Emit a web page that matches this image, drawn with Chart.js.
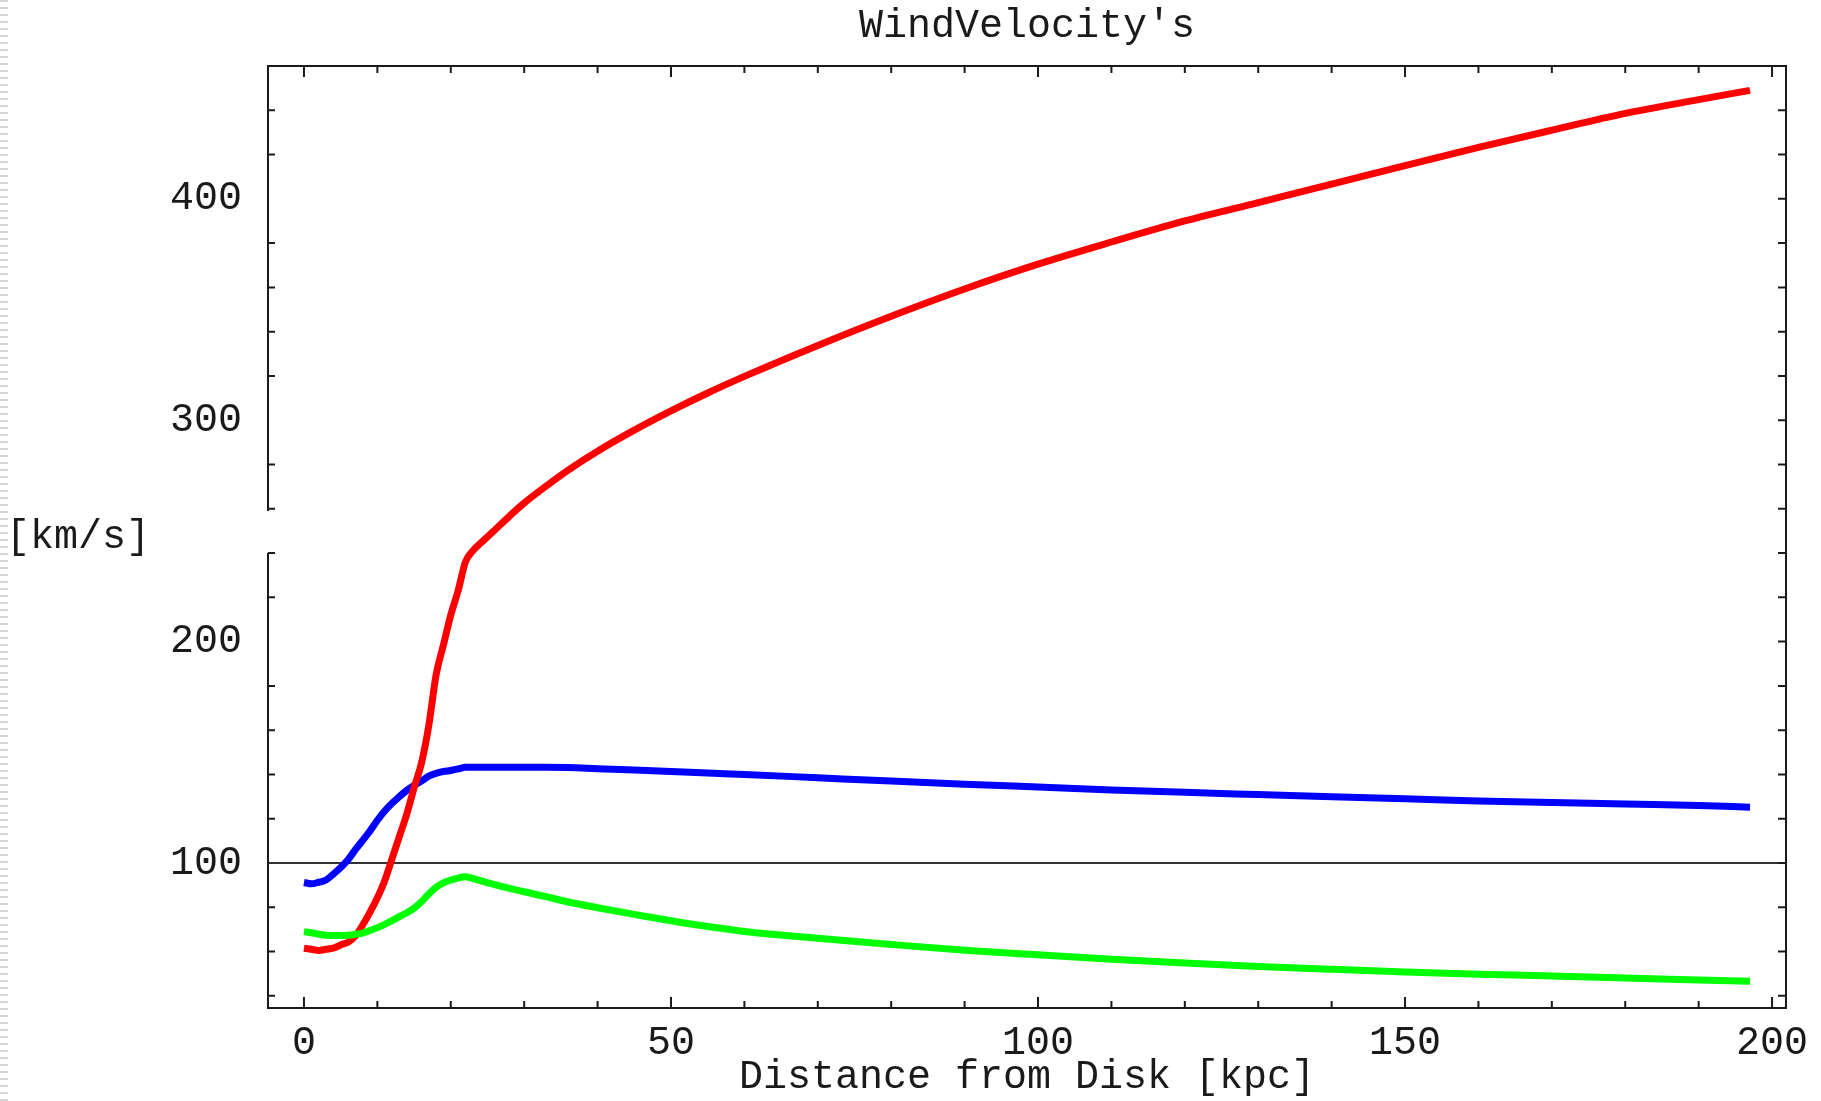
<!DOCTYPE html>
<html>
<head>
<meta charset="utf-8">
<script src="https://cdn.jsdelivr.net/npm/chart.js@4.4.0/dist/chart.umd.min.js"></script>
<style>
  html, body { margin: 0; padding: 0; background: #fff; }
  #wrap { position: relative; width: 1821px; height: 1101px; }
  #edge { position: absolute; left: 0; top: 0; width: 8px; height: 1101px;
          background: repeating-linear-gradient(to bottom, #d6d6d6 0 2px, transparent 2px 7px); }
  canvas { position: absolute; left: 0; top: 0; }
</style>
</head>
<body>
<div id="wrap"><div id="edge"></div><canvas id="windChart" width="1821" height="1101"></canvas></div>
<script>
// distance from disk [kpc]
const distance = [0, 1, 2, 3, 4, 5, 6, 7, 8, 9, 10, 11, 12, 13, 14, 15, 16, 17, 18, 19,
                  20, 21, 22, 23, 24, 26, 28, 30, 33, 36, 40, 45, 50, 55, 60, 70, 80, 90, 100,
                  110, 120, 130, 140, 150, 160, 170, 180, 190, 197];
// wind velocities [km/s]
const vRed   = [61.5, 61, 60.5, 61, 61.5, 63, 64.2, 67, 72, 77.8, 84.3, 92, 102, 112, 122, 134, 145, 162, 185, 198.5,
                212, 223, 236, 241, 244.3, 250.4, 256.7, 262.6, 270.3, 277.5, 286, 295.5, 304.2, 312.3, 319.8, 333.8, 347, 359.3, 370.5,
                380.5, 390, 398.3, 406.6, 415, 423.2, 431, 438.6, 444.8, 449];
const vBlue  = [91.2, 90.6, 91.3, 92.3, 95, 98, 101.5, 106, 110.2, 114.5, 119.3, 123.5, 127, 130, 132.8, 135, 137, 139.2, 140.5, 141.3,
                141.8, 142.5, 143.2, 143.2, 143.2, 143.2, 143.2, 143.2, 143.2, 143.1, 142.6, 142, 141.3, 140.6, 140, 138.5, 137, 135.6, 134.3,
                133, 131.9, 130.9, 129.9, 129, 128, 127.3, 126.6, 126, 125.2];
const vGreen = [69, 68.5, 67.8, 67.4, 67.3, 67.3, 67.4, 67.8, 68.3, 69.5, 70.8, 72.3, 74, 75.8, 77.5, 79.6, 82.5, 86, 89, 91,
                92.3, 93.2, 93.8, 93, 92, 90.2, 88.5, 87, 84.8, 82.4, 79.8, 76.8, 73.9, 71.3, 69.1, 66, 63.2, 60.6, 58.5,
                56.5, 54.8, 53.3, 52, 50.8, 49.8, 49, 48, 47.2, 46.6];

const xTickLabels = [0, 50, 100, 150, 200];
const yTickLabels = [100, 200, 300, 400];

const FONT = { family: "'Liberation Mono', 'Courier New', monospace", size: 40, weight: 'normal', lineHeight: 1.2 };
const INK = '#1a1a1a';

const pts = vals => distance.map((d, i) => ({ x: d, y: vals[i] }));

const framePlugin = {
    id: 'frame',
    beforeDatasetsDraw(chart) {
        const { ctx, chartArea: a, scales: { y } } = chart;
        const y100 = y.getPixelForValue(100);
        ctx.save();
        ctx.strokeStyle = '#333';
        ctx.lineWidth = 2;
        ctx.beginPath();
        ctx.moveTo(a.left, y100);
        ctx.lineTo(a.right, y100);
        ctx.stroke();
        ctx.restore();
    },
    afterDraw(chart) {
        const { ctx, chartArea: a, scales: { x, y } } = chart;
        ctx.save();
        ctx.strokeStyle = INK;
        ctx.lineWidth = 2;
        ctx.beginPath();
        // frame, with a break in the left side
        const gapTop = y.getPixelForValue(259);
        const gapBottom = y.getPixelForValue(240);
        ctx.moveTo(a.left, gapTop);
        ctx.lineTo(a.left, a.top);
        ctx.lineTo(a.right, a.top);
        ctx.lineTo(a.right, a.bottom);
        ctx.lineTo(a.left, a.bottom);
        ctx.lineTo(a.left, gapBottom);
        // ticks
        x.ticks.forEach(t => {
            const px = x.getPixelForValue(t.value);
            const len = xTickLabels.includes(t.value) ? 11 : 7;
            ctx.moveTo(px, a.bottom); ctx.lineTo(px, a.bottom - len);
            ctx.moveTo(px, a.top); ctx.lineTo(px, a.top + len);
        });
        y.ticks.forEach(t => {
            const py = y.getPixelForValue(t.value);
            ctx.moveTo(a.right, py); ctx.lineTo(a.right - 8, py);
            if (!yTickLabels.includes(t.value)) {
                ctx.moveTo(a.left, py); ctx.lineTo(a.left + 7, py);
            }
        });
        ctx.stroke();

        // y axis title, horizontal
        ctx.fillStyle = INK;
        ctx.font = `${FONT.size}px ${FONT.family}`;
        ctx.textAlign = 'center';
        ctx.textBaseline = 'middle';
        ctx.fillText('[km/s]', 78, (a.top + a.bottom) / 2);
        ctx.restore();
    }
};

const lineStyle = color => ({
    borderColor: color,
    backgroundColor: color,
    borderWidth: 7,
    pointRadius: 0,
    cubicInterpolationMode: 'monotone',
    fill: false,
    borderJoinStyle: 'round'
});

new Chart(document.getElementById('windChart'), {
    type: 'line',
    data: {
        datasets: [
            { label: 'green', data: pts(vGreen), ...lineStyle('#00ff00') },
            { label: 'red', data: pts(vRed), ...lineStyle('#ff0000') },
            { label: 'blue', data: pts(vBlue), ...lineStyle('#0000ff') }
        ]
    },
    options: {
        responsive: false,
        animation: false,
        devicePixelRatio: 1,
        layout: { padding: { left: 0, right: 35, top: 0, bottom: 0 } },
        plugins: {
            legend: { display: false },
            tooltip: { enabled: false },
            title: {
                display: true,
                text: "WindVelocity's",
                fullSize: false,
                color: INK,
                font: FONT,
                padding: { top: 2, bottom: 16 }
            }
        },
        scales: {
            x: {
                type: 'linear',
                min: -4.9,
                max: 201.9,
                grid: { display: false, drawTicks: false },
                border: { display: false },
                afterBuildTicks: s => {
                    const t = [];
                    for (let v = 0; v <= 200; v += 10) t.push({ value: v });
                    s.ticks = t;
                },
                ticks: {
                    autoSkip: false,
                    maxRotation: 0,
                    padding: 11,
                    color: INK,
                    font: FONT,
                    callback: v => xTickLabels.includes(v) ? String(v) : ''
                },
                title: {
                    display: true,
                    text: 'Distance from Disk [kpc]',
                    color: INK,
                    font: FONT,
                    padding: { top: 0, bottom: 0 }
                },
                afterFit: s => { s.height = 93; }
            },
            y: {
                type: 'linear',
                min: 34.5,
                max: 460,
                grid: { display: false, drawTicks: false },
                border: { display: false },
                afterBuildTicks: s => {
                    const t = [];
                    for (let v = 40; v <= 460; v += 20) t.push({ value: v });
                    s.ticks = t;
                },
                ticks: {
                    autoSkip: false,
                    padding: 26,
                    color: INK,
                    font: FONT,
                    callback: v => yTickLabels.includes(v) ? String(v) : ''
                },
                afterFit: s => { s.width = 268; }
            }
        }
    },
    plugins: [framePlugin]
});
</script>
</body>
</html>
